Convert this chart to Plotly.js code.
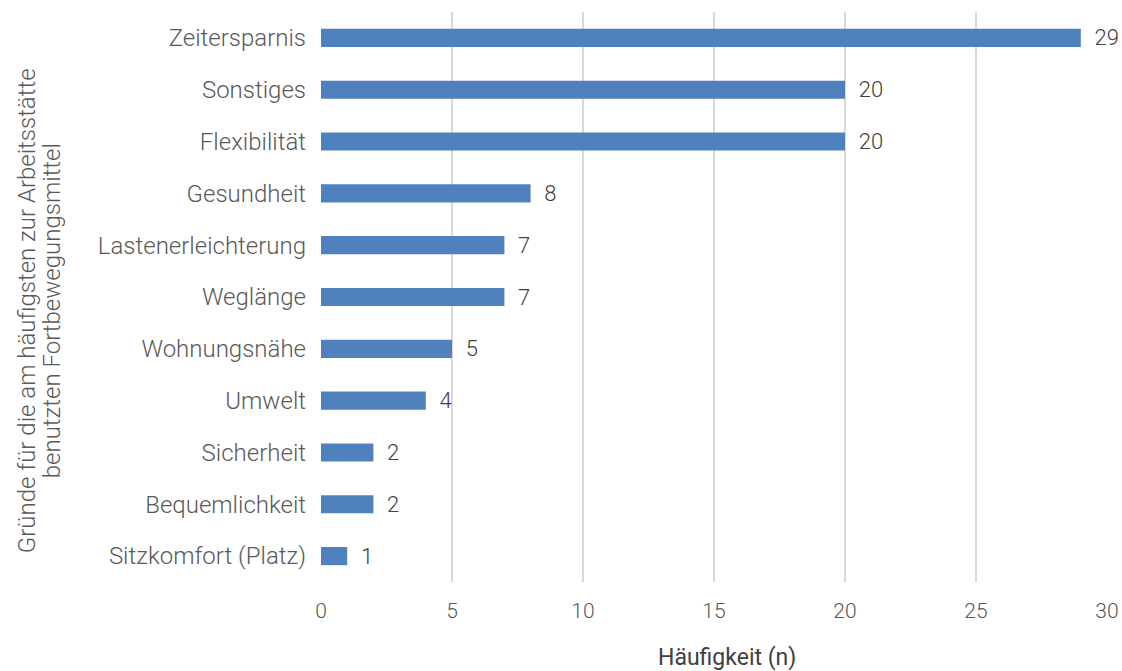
<!DOCTYPE html>
<html>
<head>
<meta charset="utf-8">
<script src="https://cdn.plot.ly/plotly-3.0.1.min.js"></script>
<style>html,body{margin:0;padding:0;background:#fff;}#chart{width:1122px;height:671px;}</style>
</head>
<body>
<div id="chart"></div>
<script>
const categories = ["Zeitersparnis","Sonstiges","Flexibilität","Gesundheit","Lastenerleichterung","Weglänge","Wohnungsnähe","Umwelt","Sicherheit","Bequemlichkeit","Sitzkomfort (Platz)"];
const counts = [29,20,20,8,7,7,5,4,2,2,1];
const xTicks = [0,5,10,15,20,25,30];
const xTitle = "Häufigkeit (n)";
const yTitleLines = ["Gründe für die am häufigsten zur Arbeitsstätte", "benutzten Fortbewegungsmittel"];

const FONT = "Roboto, 'DejaVu Sans', sans-serif";
const trace = {
  type: "bar",
  orientation: "h",
  x: counts,
  y: categories,
  width: 0.35,
  marker: {color: "#4F81BD"},
  text: counts.map(v => String(v)),
  texttemplate: "  %{text}",
  textposition: "outside",
  constraintext: "none",
  textfont: {family: FONT, size: 22, color: "#404040", weight: 300},
  cliponaxis: false,
  hoverinfo: "x+y"
};
const layout = {
  width: 1122, height: 671,
  margin: {l: 321, r: 15, t: 12, b: 89},
  paper_bgcolor: "#fff", plot_bgcolor: "#fff",
  showlegend: false,
  font: {family: FONT, color: "#595959", size: 22, weight: 300},
  xaxis: {
    range: [0, 30], tickvals: xTicks, ticktext: xTicks.map(String),
    showgrid: true, gridcolor: "#d9d9d9", gridwidth: 1.5,
    zeroline: false, showline: false, ticks: "",
    ticklabelstandoff: 14,
    tickfont: {family: FONT, size: 21, color: "#595959", weight: 300},
    fixedrange: true
  },
  yaxis: {
    type: "category", autorange: "reversed",
    showgrid: false, zeroline: false, showline: false, ticks: "",
    ticklabelstandoff: 14,
    tickfont: {family: FONT, size: 24, color: "#595959", weight: 300},
    fixedrange: true
  },
  annotations: [
    {text: xTitle, xref: "paper", yref: "paper", x: 0.517, y: 0, yshift: -75,
     xanchor: "center", yanchor: "middle", showarrow: false,
     font: {family: FONT, size: 23, color: "#404040", weight: 400}},
    {text: yTitleLines[0], xref: "paper", yref: "paper", x: 0, xshift: -294, y: 0.475,
     xanchor: "center", yanchor: "middle", showarrow: false, textangle: -90,
     font: {family: FONT, size: 24, color: "#595959", weight: 300}},
    {text: yTitleLines[1], xref: "paper", yref: "paper", x: 0, xshift: -269, y: 0.475,
     xanchor: "center", yanchor: "middle", showarrow: false, textangle: -90,
     font: {family: FONT, size: 24, color: "#595959", weight: 300}}
  ],
  bargap: 0.65
};
Plotly.newPlot("chart", [trace], layout, {displayModeBar: false, staticPlot: true});
</script>
</body>
</html>
